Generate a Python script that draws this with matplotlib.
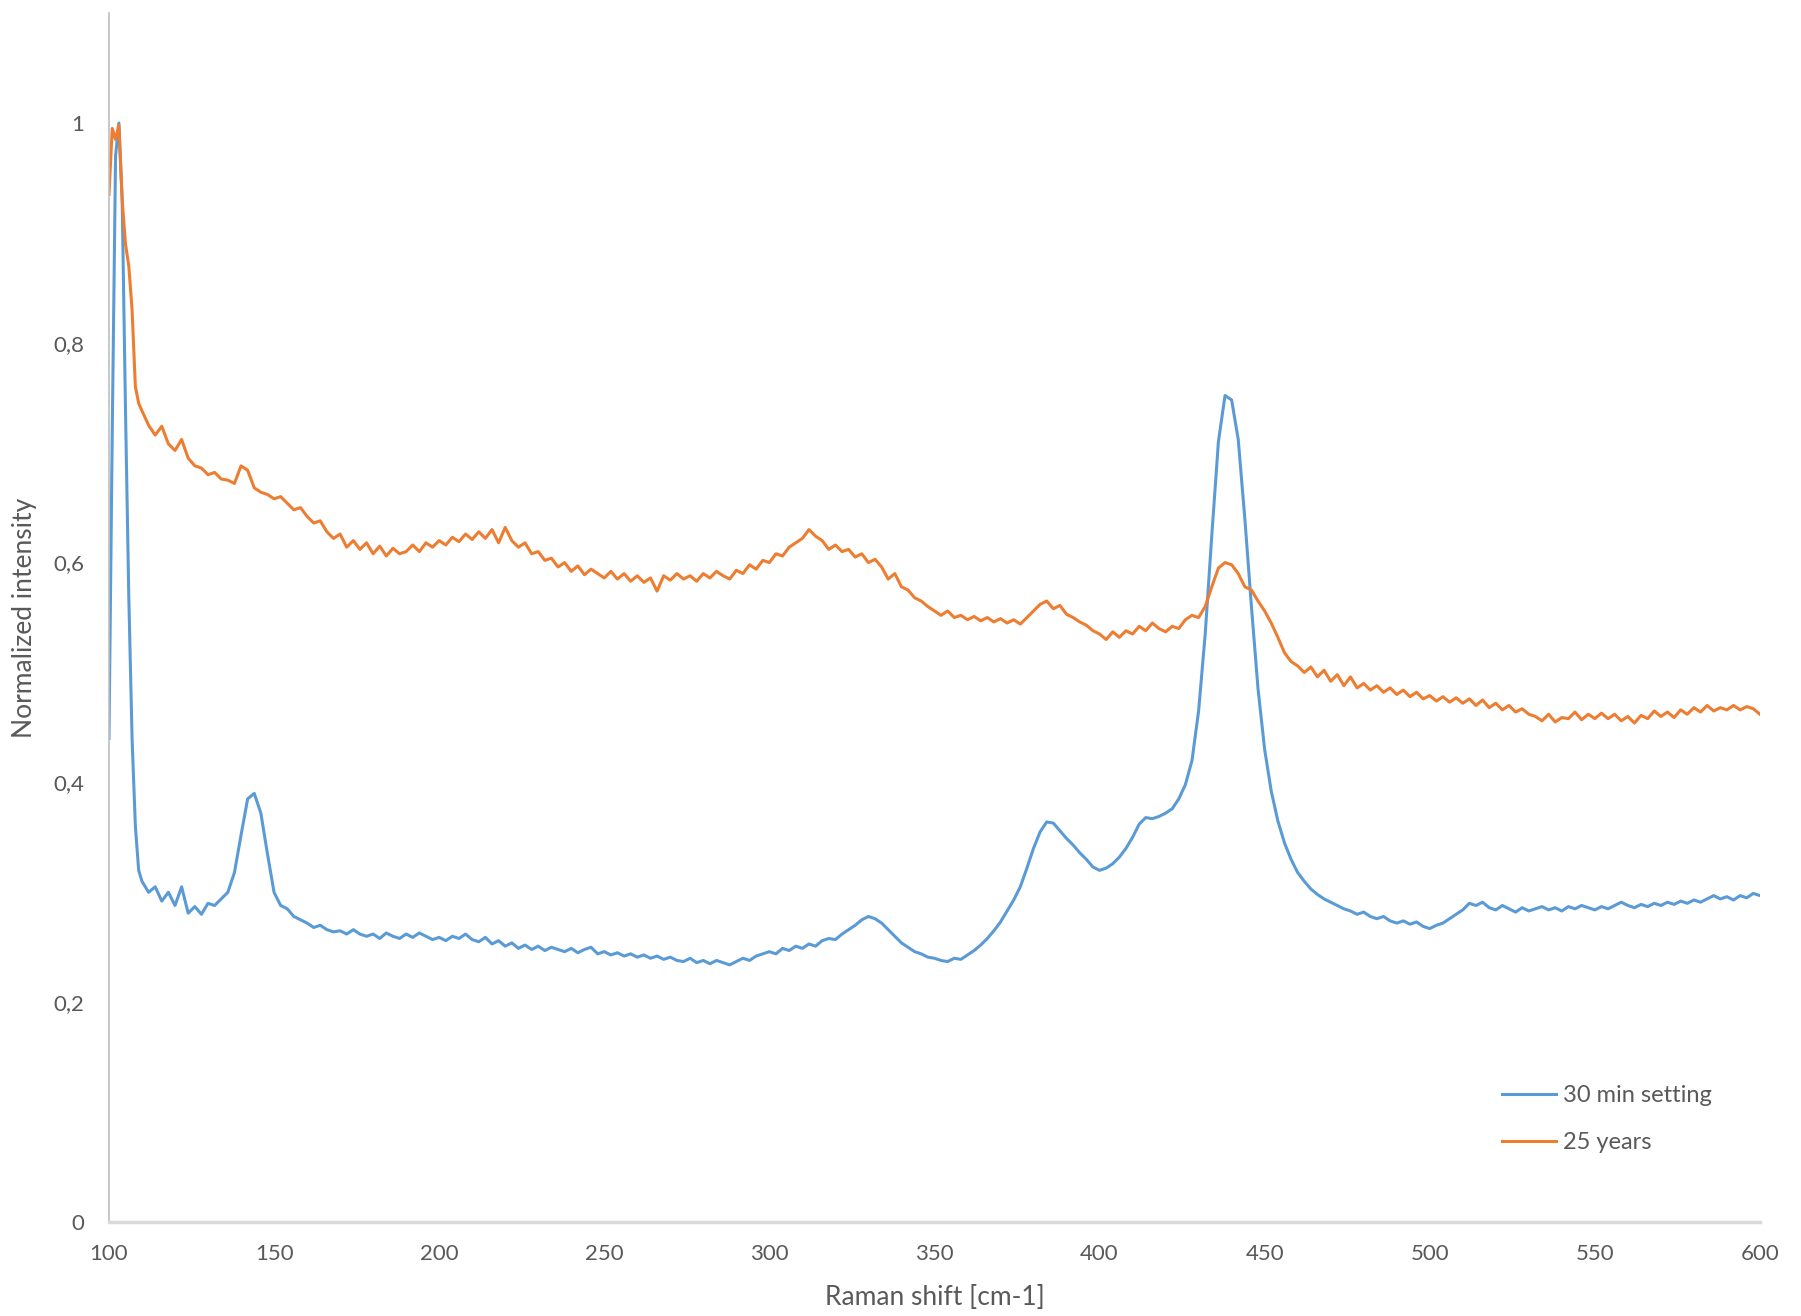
import numpy as np
import matplotlib.pyplot as plt

# Raman shift axis: 1 cm-1 steps over the first peak, then 2 cm-1 steps
shift = np.concatenate([np.arange(100, 111), np.arange(112, 601, 2)])

# 30 min setting
setting_30min = [
    0.44, 0.72, 0.97, 1.00, 0.93, 0.74, 0.57, 0.44, 0.36, 0.32, 0.31,
    0.300, 0.305, 0.292, 0.300, 0.288, 0.305, 0.281, 0.287, 0.280, 0.290,
    0.288, 0.294, 0.300, 0.318, 0.352, 0.385, 0.390, 0.372, 0.335, 0.300,
    0.288, 0.285, 0.278, 0.275, 0.272, 0.268, 0.270, 0.266, 0.264, 0.265,
    0.262, 0.266, 0.262, 0.260, 0.262, 0.258, 0.263, 0.260, 0.258, 0.262,
    0.259, 0.263, 0.260, 0.257, 0.259, 0.256, 0.260, 0.258, 0.262, 0.257,
    0.255, 0.259, 0.253, 0.256, 0.251, 0.254, 0.249, 0.252, 0.248, 0.251,
    0.247, 0.250, 0.248, 0.246, 0.249, 0.245, 0.248, 0.250, 0.244, 0.246,
    0.243, 0.245, 0.242, 0.244, 0.241, 0.243, 0.240, 0.242, 0.239, 0.241,
    0.238, 0.237, 0.240, 0.236, 0.238, 0.235, 0.238, 0.236, 0.234, 0.237,
    0.240, 0.238, 0.242, 0.244, 0.246, 0.244, 0.249, 0.247, 0.251, 0.249,
    0.253, 0.251, 0.256, 0.258, 0.257, 0.262, 0.266, 0.270, 0.275, 0.278,
    0.276, 0.272, 0.266, 0.260, 0.254, 0.250, 0.246, 0.244, 0.241, 0.240,
    0.238, 0.237, 0.240, 0.239, 0.243, 0.247, 0.252, 0.258, 0.265, 0.273,
    0.283, 0.293, 0.305, 0.322, 0.340, 0.355, 0.364, 0.363, 0.356, 0.349,
    0.343, 0.336, 0.330, 0.323, 0.320, 0.322, 0.326, 0.332, 0.340, 0.350,
    0.362, 0.368, 0.367, 0.369, 0.372, 0.376, 0.385, 0.398, 0.420, 0.465,
    0.535, 0.625, 0.710, 0.752, 0.748, 0.712, 0.640, 0.560, 0.485, 0.430,
    0.392, 0.365, 0.345, 0.330, 0.318, 0.310, 0.303, 0.298, 0.294, 0.291,
    0.288, 0.285, 0.283, 0.280, 0.282, 0.278, 0.276, 0.278, 0.274, 0.272,
    0.274, 0.271, 0.273, 0.269, 0.267, 0.270, 0.272, 0.276, 0.280, 0.284,
    0.290, 0.288, 0.291, 0.286, 0.284, 0.288, 0.285, 0.282, 0.286, 0.283,
    0.285, 0.287, 0.284, 0.286, 0.283, 0.287, 0.285, 0.288, 0.286, 0.284,
    0.287, 0.285, 0.288, 0.291, 0.288, 0.286, 0.289, 0.287, 0.290, 0.288,
    0.291, 0.289, 0.292, 0.290, 0.293, 0.291, 0.294, 0.297, 0.294, 0.296,
    0.293, 0.297, 0.295, 0.299, 0.297,
]

# 25 years
years_25 = [
    0.935, 0.995, 0.985, 0.998, 0.930, 0.890, 0.870, 0.830, 0.760, 0.745, 0.738,
    0.725, 0.716, 0.724, 0.708, 0.702, 0.712, 0.695, 0.688, 0.686, 0.680,
    0.682, 0.676, 0.675, 0.672, 0.688, 0.684, 0.668, 0.664, 0.662, 0.658,
    0.660, 0.654, 0.648, 0.650, 0.642, 0.636, 0.638, 0.628, 0.622, 0.626,
    0.614, 0.620, 0.612, 0.618, 0.608, 0.615, 0.606, 0.613, 0.608, 0.610,
    0.616, 0.610, 0.618, 0.614, 0.620, 0.616, 0.623, 0.619, 0.626, 0.621,
    0.628, 0.622, 0.630, 0.618, 0.632, 0.620, 0.614, 0.618, 0.608, 0.610,
    0.602, 0.604, 0.596, 0.600, 0.592, 0.597, 0.589, 0.594, 0.590, 0.586,
    0.592, 0.585, 0.590, 0.583, 0.588, 0.582, 0.586, 0.574, 0.588, 0.584,
    0.590, 0.585, 0.588, 0.583, 0.590, 0.586, 0.592, 0.588, 0.585, 0.593,
    0.590, 0.598, 0.594, 0.602, 0.600, 0.608, 0.606, 0.614, 0.618, 0.622,
    0.630, 0.624, 0.620, 0.612, 0.616, 0.610, 0.612, 0.605, 0.608, 0.600,
    0.603, 0.596, 0.585, 0.590, 0.578, 0.575, 0.568, 0.565, 0.560, 0.556,
    0.552, 0.556, 0.550, 0.552, 0.548, 0.551, 0.547, 0.550, 0.546, 0.549,
    0.545, 0.548, 0.544, 0.550, 0.556, 0.562, 0.565, 0.558, 0.561, 0.553,
    0.550, 0.546, 0.543, 0.538, 0.535, 0.530, 0.537, 0.532, 0.538, 0.535,
    0.542, 0.538, 0.545, 0.540, 0.537, 0.542, 0.540, 0.548, 0.552, 0.550,
    0.560, 0.578, 0.595, 0.600, 0.598, 0.590, 0.578, 0.575, 0.565, 0.556,
    0.545, 0.532, 0.518, 0.510, 0.506, 0.500, 0.505, 0.496, 0.502, 0.492,
    0.498, 0.488, 0.496, 0.486, 0.490, 0.484, 0.488, 0.482, 0.486, 0.480,
    0.484, 0.478, 0.482, 0.476, 0.479, 0.474, 0.478, 0.473, 0.477, 0.472,
    0.476, 0.470, 0.475, 0.468, 0.472, 0.466, 0.470, 0.464, 0.467, 0.462,
    0.460, 0.456, 0.462, 0.455, 0.459, 0.458, 0.464, 0.457, 0.462, 0.458,
    0.463, 0.458, 0.462, 0.456, 0.460, 0.454, 0.461, 0.458, 0.465, 0.460,
    0.464, 0.459, 0.466, 0.462, 0.468, 0.464, 0.470, 0.465, 0.468, 0.466,
    0.470, 0.466, 0.469, 0.467, 0.462,
]

x_ticks = [100, 150, 200, 250, 300, 350, 400, 450, 500, 550, 600]
y_ticks = [0, 0.2, 0.4, 0.6, 0.8, 1.0]
y_labels = ['0', '0,2', '0,4', '0,6', '0,8', '1']

plt.rcParams['font.family'] = ['Lato', 'DejaVu Sans']
grey = '#595959'

fig = plt.figure(figsize=(18.01, 13.16), dpi=100)
ax = fig.add_axes([0.0605, 0.0714, 0.9167, 0.9187])

ax.plot(shift, setting_30min, color='#5B9BD5', lw=2.2, label='30 min setting')
ax.plot(shift, years_25, color='#ED7D31', lw=2.2, label='25 years')

ax.set_xlim(100, 600)
ax.set_ylim(0, 1.1)
ax.set_xticks(x_ticks)
ax.set_yticks(y_ticks)
ax.set_yticklabels(y_labels)
ax.tick_params(length=0, labelsize=16, colors=grey)
ax.tick_params(axis='x', pad=16)
ax.tick_params(axis='y', pad=18)

for s in ['top', 'right']:
    ax.spines[s].set_visible(False)
ax.spines['left'].set_color('#BFBFBF')
ax.spines['left'].set_linewidth(1.2)
ax.spines['bottom'].set_color('#D9D9D9')
ax.spines['bottom'].set_linewidth(2.5)

ax.set_xlabel('Raman shift [cm-1]', fontsize=19, color=grey)
ax.set_ylabel('Normalized intensity', fontsize=19, color=grey)
ax.xaxis.set_label_coords(0.5, -0.052)
ax.yaxis.set_label_coords(-0.0436, 0.5)

ax.legend(loc='center left', bbox_to_anchor=(0.8365, 0.085), frameon=False,
          fontsize=17, labelcolor=grey, handlelength=2.3, handletextpad=0.3,
          borderpad=0, labelspacing=1.1)

fig.savefig('out.png', dpi=100)
